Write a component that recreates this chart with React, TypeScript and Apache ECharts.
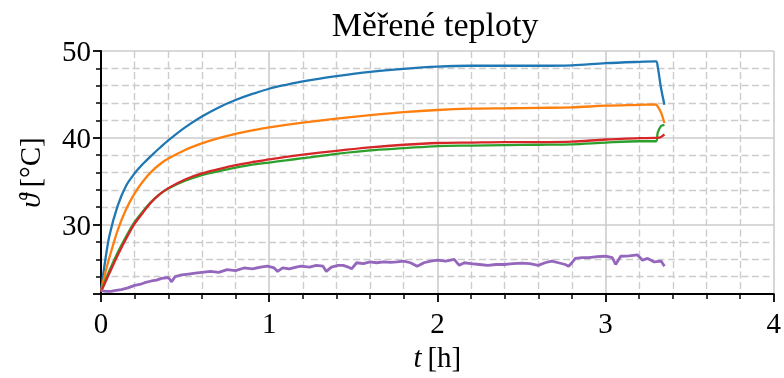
import React, { useEffect, useRef } from "react";
import * as echarts from "echarts";

const FONT = "Liberation Serif, Times New Roman, serif";

const titleText = "Měřené teploty";
const xTicks = [0, 1, 2, 3, 4];

const timeH = [0, 0.02, 0.05, 0.1, 0.15, 0.2, 0.25, 0.3, 0.35, 0.4, 0.5, 0.6, 0.7, 0.8, 0.9, 1.0, 1.1, 1.2, 1.4, 1.6, 1.8, 2.0, 2.2, 2.4, 2.6, 2.8, 3.0, 3.2, 3.3, 3.31, 3.33, 3.35];

const blueV = [22.3, 25.2, 28.7, 32.2, 34.5, 35.9, 37.0, 37.95, 38.85, 39.7, 41.2, 42.45, 43.5, 44.35, 45.05, 45.65, 46.1, 46.5, 47.1, 47.6, 47.95, 48.2, 48.3, 48.3, 48.3, 48.35, 48.6, 48.75, 48.8, 48.2, 45.7, 43.8];
const orangeV = [22.3, 24.0, 26.2, 29.4, 31.8, 33.6, 35.0, 36.1, 36.95, 37.6, 38.6, 39.35, 39.95, 40.45, 40.85, 41.2, 41.5, 41.75, 42.2, 42.6, 42.95, 43.2, 43.35, 43.4, 43.45, 43.5, 43.7, 43.8, 43.85, 43.6, 42.9, 41.7];
const greenV = [22.3, 23.3, 24.7, 26.8, 28.65, 30.3, 31.55, 32.65, 33.5, 34.15, 35.05, 35.7, 36.15, 36.55, 36.9, 37.15, 37.4, 37.65, 38.15, 38.55, 38.8, 39.05, 39.1, 39.15, 39.2, 39.25, 39.45, 39.6, 39.6, 40.6, 41.35, 41.5];
const redV = [22.3, 23.1, 24.4, 26.5, 28.4, 30.1, 31.4, 32.6, 33.5, 34.2, 35.2, 35.9, 36.4, 36.85, 37.2, 37.5, 37.8, 38.05, 38.5, 38.9, 39.2, 39.4, 39.45, 39.5, 39.5, 39.55, 39.8, 39.95, 40.0, 40.0, 40.1, 40.4];

const purpleT = [0, 0.03, 0.06, 0.08, 0.12, 0.16, 0.2, 0.23, 0.26, 0.3, 0.33, 0.36, 0.4, 0.42, 0.44, 0.48, 0.52, 0.56, 0.6, 0.65, 0.7, 0.75, 0.8, 0.85, 0.9, 0.95, 0.99, 1.03, 1.05, 1.08, 1.12, 1.16, 1.19, 1.24, 1.28, 1.32, 1.34, 1.37, 1.41, 1.44, 1.47, 1.49, 1.52, 1.56, 1.6, 1.64, 1.68, 1.72, 1.76, 1.8, 1.84, 1.88, 1.92, 1.96, 2.0, 2.05, 2.1, 2.13, 2.16, 2.2, 2.25, 2.3, 2.35, 2.4, 2.45, 2.5, 2.55, 2.6, 2.64, 2.68, 2.72, 2.76, 2.78, 2.8, 2.82, 2.86, 2.9, 2.95, 3.0, 3.04, 3.06, 3.09, 3.14, 3.19, 3.22, 3.25, 3.29, 3.33, 3.35];
const purpleV = [22.4, 22.3, 22.3, 22.4, 22.5, 22.7, 23.0, 23.1, 23.3, 23.5, 23.6, 23.8, 23.9, 23.4, 24.0, 24.2, 24.3, 24.4, 24.5, 24.6, 24.5, 24.8, 24.7, 25.0, 24.9, 25.1, 25.2, 25.0, 24.6, 25.0, 24.9, 25.1, 25.2, 25.1, 25.3, 25.2, 24.6, 25.1, 25.3, 25.3, 25.1, 24.9, 25.6, 25.5, 25.7, 25.6, 25.7, 25.65, 25.7, 25.8, 25.6, 25.2, 25.6, 25.8, 25.9, 25.8, 26.0, 25.3, 25.6, 25.5, 25.4, 25.3, 25.4, 25.4, 25.5, 25.55, 25.5, 25.3, 25.6, 25.8, 25.6, 25.4, 25.2, 25.6, 26.1, 26.2, 26.2, 26.3, 26.35, 26.2, 25.4, 26.35, 26.4, 26.5, 25.9, 26.1, 25.7, 25.8, 25.2];

const COLORS = ["#1f77b4", "#ff7f0e", "#2ca02c", "#d62728", "#9467bd"];

function pairs(t: number[], v: number[]) {
  return t.map((x, i) => [x, v[i]]);
}

export default function App() {
  const ref = useRef<HTMLDivElement>(null);
  useEffect(() => {
    if (!ref.current) return;
    const chart = echarts.init(ref.current, undefined, { renderer: "svg" });
    const gridColor = "#cccccc";
    const axisCommon = {
      axisLine: { show: true, onZero: false, lineStyle: { color: "#000", width: 2 } },
      axisTick: { show: true, length: 8, lineStyle: { color: "#000", width: 1.8 } },
      minorTick: { show: true, splitNumber: 5, length: 5, lineStyle: { color: "#000", width: 1.5 } },
      splitLine: { show: true, lineStyle: { color: gridColor, width: 1.6 } },
      minorSplitLine: { show: true, lineStyle: { color: gridColor, width: 1.4, type: [7, 3.5] } },
    };
    const lineSeries = (name: string, v: number[], color: string) => ({
      name,
      type: "line",
      data: pairs(timeH, v),
      showSymbol: false,
      smooth: 0.3,
      lineStyle: { color, width: 2.3 },
      itemStyle: { color },
    });
    chart.setOption({
      animation: false,
      grid: { left: 101, right: 6, top: 51, bottom: 84 },
      graphic: [
        {
          type: "text",
          x: 435,
          y: 24,
          style: {
            text: titleText,
            fontFamily: FONT,
            fontSize: 34,
            fill: "#000",
            textAlign: "center",
            textVerticalAlign: "middle",
          },
        },
      ],
      xAxis: {
        type: "value",
        min: xTicks[0],
        max: xTicks[xTicks.length - 1],
        interval: 1,
        ...axisCommon,
        axisLabel: { fontFamily: FONT, fontSize: 29, color: "#000", margin: 14 },
        name: "{i|t}\u2009[h]",
        nameLocation: "middle",
        nameGap: 48,
        nameTextStyle: {
          fontFamily: FONT,
          fontSize: 29,
          color: "#000",
          rich: { i: { fontStyle: "italic", fontFamily: FONT, fontSize: 29, color: "#000" } },
        },
      },
      yAxis: {
        type: "value",
        min: 22,
        max: 50,
        splitNumber: 3,
        ...axisCommon,
        axisLabel: { fontFamily: FONT, fontSize: 29, color: "#000", margin: 10, showMinLabel: false },
        name: "{i|ϑ}\u2009[°C]",
        nameLocation: "middle",
        nameRotate: 90,
        nameGap: 57,
        nameTextStyle: {
          fontFamily: FONT,
          fontSize: 29,
          color: "#000",
          rich: { i: { fontStyle: "italic", fontFamily: FONT, fontSize: 29, color: "#000" } },
        },
      },
      series: [
        lineSeries("T1", blueV, COLORS[0]),
        lineSeries("T2", orangeV, COLORS[1]),
        lineSeries("T3", greenV, COLORS[2]),
        lineSeries("T4", redV, COLORS[3]),
        {
          name: "T5",
          type: "line",
          data: pairs(purpleT, purpleV),
          showSymbol: false,
          lineStyle: { color: COLORS[4], width: 2.8 },
          itemStyle: { color: COLORS[4] },
        },
      ],
    });
    return () => chart.dispose();
  }, []);
  return (
    <div
      ref={ref}
      style={{ position: "fixed", left: 0, top: 0, width: 784, height: 378 }}
    />
  );
}
